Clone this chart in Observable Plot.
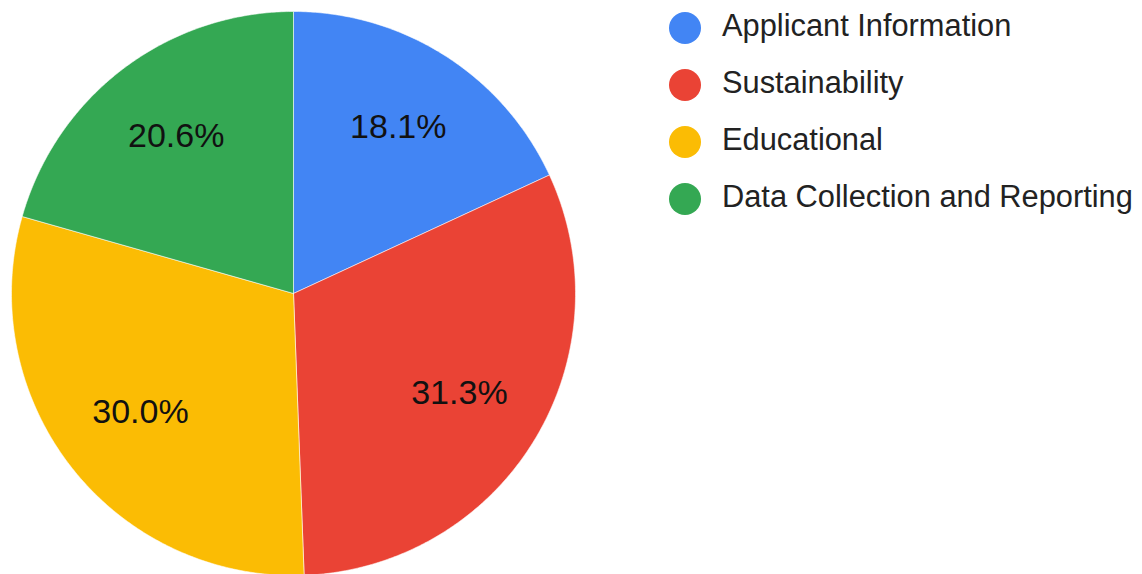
<!DOCTYPE html>
<html><head><meta charset="utf-8">
<script src="https://cdn.jsdelivr.net/npm/d3@7"></script>
<script src="https://cdn.jsdelivr.net/npm/@observablehq/plot@0.6"></script>
<style>
body{margin:0;background:#fff;font-family:"Liberation Sans",Arial,sans-serif}
#wrap{position:relative;width:1142px;height:574px;overflow:hidden}
#wrap svg{position:absolute;left:0;top:0}
#legend{position:absolute;left:669px;top:-1px}
.row{display:flex;align-items:center;height:57px}
.sw{width:32px;height:32px;border-radius:50%;margin-right:21px;flex:none}
.lab{font-size:30.8px;color:#222;white-space:nowrap;position:relative;top:-2px}
</style></head>
<body><div id="wrap"><div id="legend"></div></div>
<script>
const categories = ["Applicant Information", "Sustainability", "Educational", "Data Collection and Reporting"];
const values = [18.1, 31.3, 30.0, 20.6];
const pctLabels = ["18.1%", "31.3%", "30.0%", "20.6%"];
const colors = ["#4285F4", "#EA4335", "#FBBC04", "#34A853"];

const total = d3.sum(values);
const pts = [];
const lbl = [];
let acc = 0;
categories.forEach((c, i) => {
  const a0 = acc / total * 2 * Math.PI;
  acc += values[i];
  const a1 = acc / total * 2 * Math.PI;
  pts.push({name: c, x: 0, y: 0});
  const n = Math.max(2, Math.ceil((a1 - a0) / (Math.PI / 360)));
  for (let k = 0; k <= n; k++) {
    const a = a0 + (a1 - a0) * k / n;
    pts.push({name: c, x: Math.sin(a), y: Math.cos(a)});
  }
  pts.push({name: c, x: 0, y: 0});
  const m = (a0 + a1) / 2;
  lbl.push({name: c, text: pctLabels[i], x: 0.69 * Math.sin(m), y: 0.69 * Math.cos(m)});
});

const chart = Plot.plot({
  width: 1142, height: 574, margin: 0,
  x: {domain: [-1, 1], range: [11, 575], axis: null},
  y: {domain: [-1, 1], range: [575, 11], axis: null},
  color: {domain: categories, range: colors},
  marks: [
    Plot.line(pts, {x: "x", y: "y", z: "name", fill: "name", stroke: "#fff", strokeWidth: 0.8, strokeOpacity: 0.7}),
    Plot.text(lbl, {x: "x", y: "y", dy: -2, text: "text", fill: "#111", fontSize: 34, fontFamily: "Liberation Sans, Arial, sans-serif"})
  ]
});
const wrap = document.getElementById("wrap");
wrap.insertBefore(chart, wrap.firstChild);

const legend = document.getElementById("legend");
categories.forEach((c, i) => {
  const row = document.createElement("div");
  row.className = "row";
  row.innerHTML = `<div class="sw" style="background:${colors[i]}"></div><div class="lab">${c}</div>`;
  legend.appendChild(row);
});
</script>
</body></html>
